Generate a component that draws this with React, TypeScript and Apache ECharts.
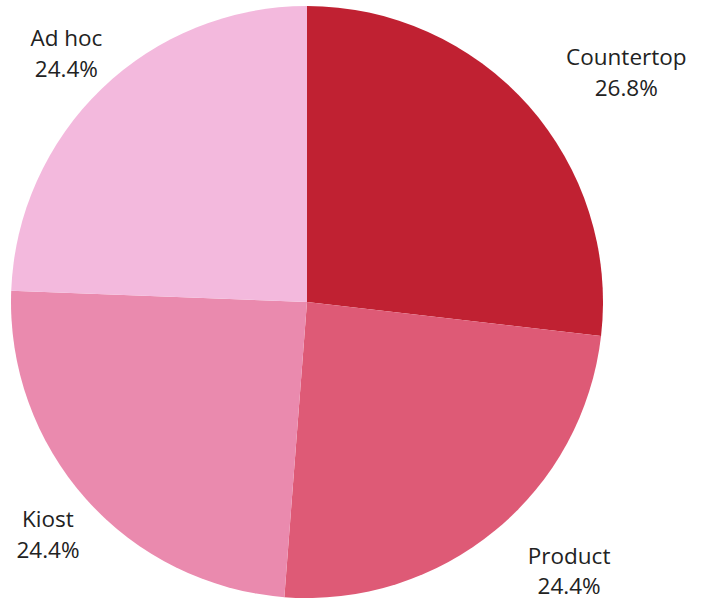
import React, { useEffect, useRef } from "react";
import * as echarts from "echarts";

const categories = ["Countertop", "Product", "Kiost", "Ad hoc"];
const values = [11, 10, 10, 10];
const colors = ["#C02132", "#DE5A76", "#EA8AAE", "#F3B9DD"];

const CX = 307;
const CY = 302;
const RADIUS = 296;
const LABEL_R = 347;

function midAngle(i: number): number {
  const total = values.reduce((a, b) => a + b, 0);
  let start = 0;
  for (let j = 0; j < i; j++) start += values[j];
  return ((start + values[i] / 2) / total) * Math.PI * 2;
}

export default function App() {
  const ref = useRef<HTMLDivElement>(null);
  useEffect(() => {
    if (!ref.current) return;
    const chart = echarts.init(ref.current, null, { renderer: "svg" });
    const textStyle = {
      fontFamily: "Open Sans",
      fontSize: 22.5,
      lineHeight: 30.5,
      color: "#222222",
      align: "center",
    };
    chart.setOption({
      animation: false,
      backgroundColor: "#ffffff",
      series: [
        {
          type: "pie",
          center: [CX, CY],
          radius: [0, RADIUS],
          startAngle: 90,
          clockwise: true,
          percentPrecision: 1,
          avoidLabelOverlap: false,
          data: categories.map((name, i) => ({
            name,
            value: values[i],
            itemStyle: { color: colors[i] },
          })),
          itemStyle: { borderWidth: 0 },
          emphasis: { disabled: true },
          label: {
            show: true,
            position: "outside",
            formatter: "{c|{b}}\n{c|{d}%}",
            rich: { c: textStyle },
            fontFamily: "Open Sans",
            fontSize: 22.5,
            color: "#222222",
          },
          labelLine: { show: false, length: 0, length2: 0 },
          labelLayout: (p: any) => {
            const a = midAngle(p.dataIndex);
            const x = CX + LABEL_R * Math.sin(a);
            const y = CY - LABEL_R * Math.cos(a) + 1;
            const right = Math.sin(a) > 0;
            return { x, y, align: right ? "left" : "center", verticalAlign: "middle" };
          },
        },
      ],
    });
    return () => chart.dispose();
  }, []);
  return (
    <div
      ref={ref}
      style={{ position: "absolute", left: 0, top: 0, width: 703, height: 601 }}
    />
  );
}
